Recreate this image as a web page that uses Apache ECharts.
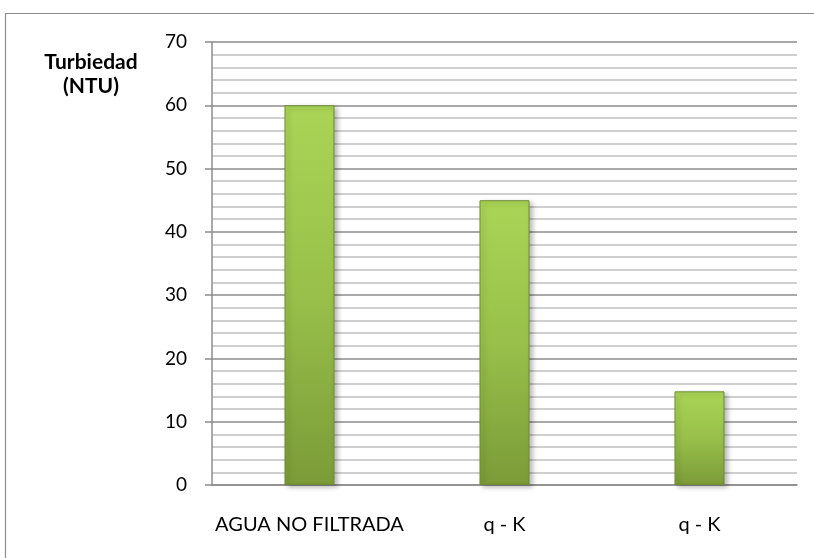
<!DOCTYPE html>
<html>
<head>
<meta charset="utf-8">
<script src="https://cdn.jsdelivr.net/npm/echarts@6/dist/echarts.min.js"></script>
<style>
  html, body { margin: 0; padding: 0; background: #fff; }
  #chart { width: 814px; height: 558px; }
</style>
</head>
<body>
<div id="chart"></div>
<script>
// Turbidity of unfiltered water vs. filtered samples
const categories = ['AGUA NO FILTRADA', 'q - K', 'q - K'];
const turbidity = [60, 45, 14.8];
const yTicks = { min: 0, max: 70, interval: 10 };
const axisName = 'Turbiedad\n(NTU)';

const FONT = 'Lato';
const chart = echarts.init(document.getElementById('chart'), null, { renderer: 'canvas' });

chart.setOption({
  animation: false,
  backgroundColor: '#ffffff',
  graphic: [
    {
      type: 'rect',
      shape: { x: 5.5, y: 13.5, width: 830, height: 560 },
      style: { fill: 'none', stroke: '#8c8c8c', lineWidth: 1.2 },
      z: -1
    },
    {
      type: 'text',
      x: 91, y: 50,
      style: {
        text: axisName,
        font: 'bold 21px ' + FONT,
        fill: '#000',
        align: 'center',
        verticalAlign: 'top',
        lineHeight: 24
      }
    }
  ],
  grid: { left: 212, right: 17, top: 42, bottom: 73, containLabel: false },
  xAxis: {
    type: 'category',
    data: categories,
    axisLine: { show: true, lineStyle: { color: '#8c8c8c', width: 1.5 } },
    axisTick: { show: false },
    axisLabel: { color: '#000', fontFamily: FONT, fontSize: 20, margin: 30, interval: 0 },
    splitLine: { show: false }
  },
  yAxis: {
    type: 'value',
    min: yTicks.min,
    max: yTicks.max,
    interval: yTicks.interval,
    axisLine: { show: true, lineStyle: { color: '#8c8c8c', width: 1.5 } },
    axisTick: { show: true, length: 7, lineStyle: { color: '#8c8c8c', width: 1.5 } },
    axisLabel: { color: '#000', fontFamily: FONT, fontSize: 19, margin: 25 },
    splitLine: { show: true, lineStyle: { color: '#8c8c8c', width: 1.5 } },
    minorTick: { show: false, splitNumber: 5 },
    minorSplitLine: { show: true, lineStyle: { color: '#c0c0c0', width: 1.5 } }
  },
  series: [{
    type: 'bar',
    data: turbidity,
    barWidth: 50,
    itemStyle: {
      color: {
        type: 'linear', x: 0, y: 0, x2: 0, y2: 1,
        colorStops: [
          { offset: 0, color: '#aad556' },
          { offset: 0.5, color: '#98c04a' },
          { offset: 1, color: '#7b9b38' }
        ]
      },
      borderColor: '#6e8c30',
      borderWidth: 1,
      shadowColor: 'rgba(0,0,0,0.28)',
      shadowBlur: 5,
      shadowOffsetX: 3,
      shadowOffsetY: 2
    }
  }]
});
</script>
</body>
</html>
